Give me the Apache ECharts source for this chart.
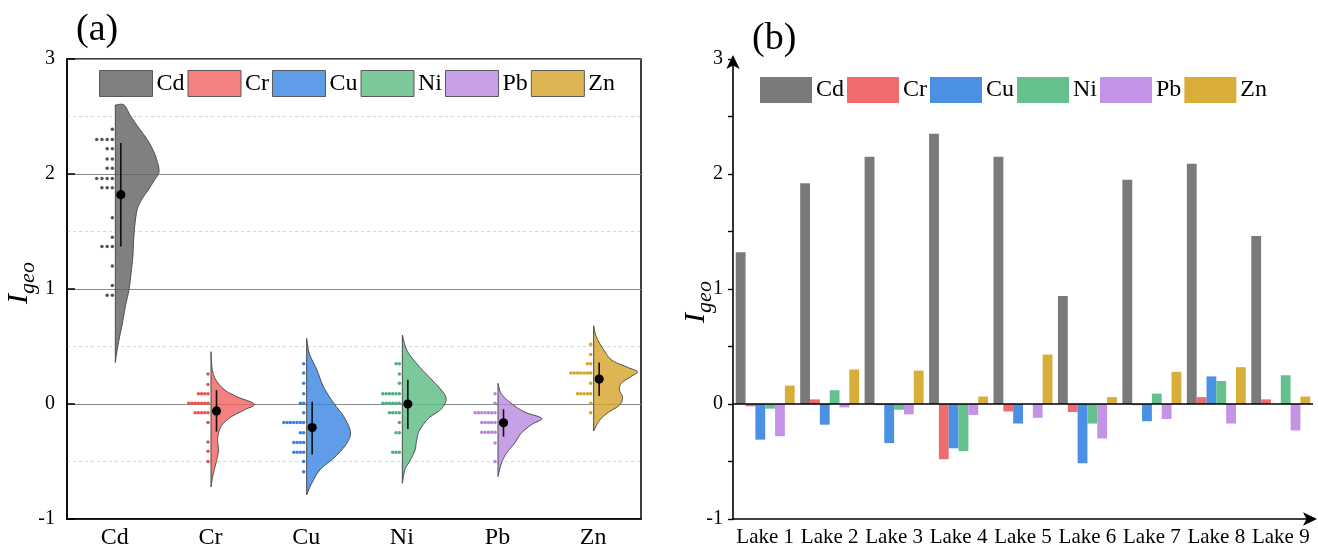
<!DOCTYPE html>
<html><head><meta charset="utf-8">
<script src="https://cdn.jsdelivr.net/npm/echarts@6/dist/echarts.min.js"></script>
<style>html,body{margin:0;padding:0;background:#fff}#c{width:1318px;height:551px}</style>
</head><body><div id="c"></div>
<script>
// ---------- DATA ----------
const elements = ['Cd', 'Cr', 'Cu', 'Ni', 'Pb', 'Zn'];
const lakes = ['Lake 1', 'Lake 2', 'Lake 3', 'Lake 4', 'Lake 5', 'Lake 6', 'Lake 7', 'Lake 8', 'Lake 9'];

// half-violin outlines: [Igeo value, relative density]
const cdProfile = [[2.60,0],[2.60,0.20],[2.51,0.34],[2.41,0.52],[2.30,0.73],[2.21,0.86],[2.12,0.95],[2.02,1.00],[1.95,0.90],[1.86,0.75],[1.77,0.59],[1.69,0.50],[1.57,0.45],[1.43,0.42],[1.28,0.40],[1.14,0.36],[0.99,0.31],[0.85,0.23],[0.70,0.16],[0.56,0.085],[0.42,0.02],[0.36,0]];
const crProfile = [[0.455,0],[0.38,0.01],[0.30,0.03],[0.21,0.11],[0.12,0.32],[0.06,0.61],[0.0,0.99],[-0.05,0.77],[-0.11,0.47],[-0.17,0.28],[-0.23,0.19],[-0.31,0.15],[-0.40,0.17],[-0.49,0.13],[-0.57,0.075],[-0.65,0.03],[-0.72,0]];
const cuProfile = [[0.57,0],[0.44,0.06],[0.30,0.23],[0.15,0.385],[0.006,0.62],[-0.11,0.85],[-0.24,1.0],[-0.34,0.92],[-0.46,0.65],[-0.57,0.31],[-0.69,0.115],[-0.79,0]];
const niProfile = [[0.60,0],[0.47,0.10],[0.35,0.33],[0.24,0.60],[0.14,0.85],[0.05,1.0],[-0.04,0.90],[-0.125,0.60],[-0.23,0.39],[-0.31,0.33],[-0.40,0.29],[-0.49,0.18],[-0.57,0.06],[-0.69,0]];
const pbProfile = [[0.18,0],[0.09,0.075],[0.006,0.30],[-0.07,0.61],[-0.125,1.0],[-0.18,0.76],[-0.255,0.53],[-0.34,0.38],[-0.43,0.19],[-0.52,0.075],[-0.63,0]];
const znProfile = [[0.68,0],[0.585,0.06],[0.47,0.23],[0.38,0.42],[0.32,0.77],[0.28,1.0],[0.24,0.86],[0.18,0.63],[0.12,0.59],[0.06,0.66],[-0.01,0.59],[-0.08,0.31],[-0.15,0.12],[-0.235,0]];

// dot rows: [Igeo value, number of samples]
const cdRows = [[2.39,1],[2.30,4],[2.22,2],[2.13,2],[2.05,2],[1.96,4],[1.88,3],[1.62,1],[1.45,1],[1.37,3],[1.20,1],[1.03,1],[0.945,2]];
const crRows = [[0.26,1],[0.17,1],[0.09,4],[0.006,7],[-0.075,5],[-0.16,1],[-0.33,1],[-0.41,1],[-0.50,1]];
const cuRows = [[0.35,1],[0.27,1],[0.18,1],[0.09,1],[0.006,2],[-0.075,1],[-0.16,7],[-0.25,2],[-0.335,4],[-0.42,4],[-0.50,1],[-0.59,1]];
const niRows = [[0.35,2],[0.26,1],[0.18,1],[0.09,6],[0.006,6],[-0.075,4],[-0.16,1],[-0.25,2],[-0.42,3]];
const pbRows = [[0.09,1],[0.006,1],[-0.075,7],[-0.16,5],[-0.245,5],[-0.34,1],[-0.50,1]];
const znRows = [[0.52,1],[0.43,1],[0.35,2],[0.27,7],[0.18,1],[0.09,5],[0.006,1],[-0.075,1]];

// mean and whisker
const means = [1.82, -0.06, -0.205, 0.00, -0.163, 0.217];
const errLow = [1.37, -0.24, -0.44, -0.217, -0.284, 0.07];
const errHigh = [2.27, 0.12, 0.02, 0.21, -0.046, 0.36];

// (b) bars per lake
const cdLake = [1.32, 1.92, 2.15, 2.35, 2.15, 0.94, 1.95, 2.09, 1.46];
const crLake = [-0.02, 0.04, -0.01, -0.48, -0.065, -0.07, -0.01, 0.06, 0.04];
const cuLake = [-0.31, -0.18, -0.34, -0.385, -0.17, -0.515, -0.15, 0.24, 0];
const niLake = [-0.04, 0.12, -0.05, -0.41, 0, -0.17, 0.09, 0.20, 0.25];
const pbLake = [-0.28, -0.03, -0.09, -0.095, -0.12, -0.30, -0.13, -0.17, -0.23];
const znLake = [0.16, 0.30, 0.29, 0.065, 0.43, 0.06, 0.28, 0.32, 0.065];

// ---------- STYLE ----------
const SERIF = 'Liberation Serif, Times New Roman, serif';
const baseRGB = [[96,96,96],[241,97,95],[56,133,226],[90,188,129],[186,136,224],[212,162,40]];
const fillCols = baseRGB.map(c => `rgba(${c[0]},${c[1]},${c[2]},0.8)`);
const dotCols = ['#555555','#ea5050','#3a80dc','#4cb07a','#b784e0','#d3a22c'];
const legendFills = ['#808080','#f4817f','#609de8','#7bc99a','#c8a0e6','#ddb553'];
const barCols = ['#7a7a7a','#f06b6b','#4a90e3','#64c08c','#c493e6','#d9ad3a'];
const dotGaps = [5.2, 3.2, 3.3, 3.3, 3.3, 3.3];

const profiles = [cdProfile, crProfile, cuProfile, niProfile, pbProfile, znProfile];
const rowsAll = [cdRows, crRows, cuRows, niRows, pbRows, znRows];
const lakeAll = [cdLake, crLake, cuLake, niLake, pbLake, znLake];

function catmull(pts, seg) {
  const out = [];
  for (let i = 0; i < pts.length - 1; i++) {
    const p0 = pts[Math.max(i - 1, 0)], p1 = pts[i], p2 = pts[i + 1], p3 = pts[Math.min(i + 2, pts.length - 1)];
    for (let t = 0; t < seg; t++) {
      const s = t / seg, s2 = s * s, s3 = s2 * s;
      const f = (a, b, c, d) => 0.5 * ((2 * b) + (-a + c) * s + (2 * a - 5 * b + 4 * c - d) * s2 + (-a + 3 * b - 3 * c + d) * s3);
      out.push([f(p0[0], p1[0], p2[0], p3[0]), f(p0[1], p1[1], p2[1], p3[1])]);
    }
  }
  out.push(pts[pts.length - 1]);
  return out;
}

function violinSeries(idx) {
  return {
    type: 'custom', name: elements[idx], xAxisIndex: 0, yAxisIndex: 0,
    itemStyle: { color: fillCols[idx] },
    data: [[idx, means[idx], errLow[idx], errHigh[idx]]],
    z: 5,
    renderItem: function (params, api) {
      const cat = api.value(0);
      const base = api.coord([cat, 0])[0] + 0.5;
      const band = api.size([1, 0])[0];
      const W = band * 0.457;
      const prof = profiles[idx];
      const pts = prof.map(p => [base + p[1] * W, api.coord([cat, p[0]])[1]]);
      const curve = catmull(pts, 10).map(p => [Math.max(p[0], base), p[1]]);
      const poly = [[base, pts[0][1]]].concat(curve).concat([[base, pts[pts.length - 1][1]]]);
      const children = [{
        type: 'polygon', shape: { points: poly },
        style: { fill: fillCols[idx], stroke: '#4a4a4a', lineWidth: 1 }
      }];
      rowsAll[idx].forEach(r => {
        const y = api.coord([cat, r[0]])[1];
        for (let k = 0; k < r[1]; k++) {
          children.push({ type: 'circle', shape: { cx: base - 3 - k * dotGaps[idx], cy: y, r: 1.75 }, style: { fill: dotCols[idx] } });
        }
      });
      const ex = base + 5.5;
      children.push({ type: 'line', shape: { x1: ex, y1: api.coord([cat, api.value(2)])[1], x2: ex, y2: api.coord([cat, api.value(3)])[1] }, style: { stroke: '#111', lineWidth: 1.6 } });
      const my = api.coord([cat, api.value(1)])[1];
      children.push({ type: 'circle', shape: { cx: ex, cy: my, r: 4.6 }, style: { fill: '#000' } });
      return { type: 'group', children: children };
    }
  };
}

function barSeries(idx) {
  const s = {
    type: 'bar', name: elements[idx], xAxisIndex: 1, yAxisIndex: 1,
    data: lakeAll[idx], barGap: '0%', barCategoryGap: '8.5%',
    itemStyle: { color: barCols[idx] }, z: 3
  };
  if (idx === 0) {
    s.markLine = { silent: true, symbol: 'none', label: { show: false },
      lineStyle: { color: '#000', width: 1.6, type: 'solid' }, data: [{ yAxis: 0 }] };
  }
  return s;
}

const chart = echarts.init(document.getElementById('c'), null, { renderer: 'canvas' });
const igeoRich = {
  i: { fontSize: 30, fontStyle: 'italic', fontFamily: SERIF, fill: '#000', verticalAlign: 'top', lineHeight: 38 },
  s: { fontSize: 22, fontStyle: 'italic', fontFamily: SERIF, fill: '#000', verticalAlign: 'top', lineHeight: 38, padding: [13, 0, 0, 0] }
};
chart.setOption({
  animation: false,
  backgroundColor: '#fff',
  title: [
    { text: '(a)', left: 71, top: 6, textStyle: { fontSize: 38, fontWeight: 'normal', fontFamily: SERIF, color: '#000' } },
    { text: '(b)', left: 747, top: 15, textStyle: { fontSize: 38, fontWeight: 'normal', fontFamily: SERIF, color: '#000' } }
  ],
  graphic: [
    { type: 'text', x: 23, y: 283, rotation: Math.PI / 2, style: { text: '{i|I}{s|geo}', rich: igeoRich, align: 'center', verticalAlign: 'middle' } },
    { type: 'text', x: 700, y: 302, rotation: Math.PI / 2, style: { text: '{i|I}{s|geo}', rich: igeoRich, align: 'center', verticalAlign: 'middle' } }
  ],
  legend: [
    { left: 94, top: 65, itemWidth: 53, itemHeight: 26, itemGap: 3, icon: 'rect', selectedMode: false,
      textStyle: { fontSize: 24, fontFamily: SERIF, color: '#000', padding: [0, 0, 0, -1] },
      data: elements.map((e, i) => ({ name: e, itemStyle: { color: legendFills[i], borderColor: '#5a5a5a', borderWidth: 1 } })) },
    { left: 755, top: 72, itemWidth: 52, itemHeight: 26, itemGap: 3, icon: 'rect', selectedMode: false,
      textStyle: { fontSize: 24, fontFamily: SERIF, color: '#000', padding: [0, 0, 0, -1] },
      data: elements.map((e, i) => ({ name: e, itemStyle: { color: barCols[i], borderWidth: 0 } })) }
  ],
  grid: [
    { left: 67, top: 59, width: 574, height: 460, show: true, borderColor: '#000', borderWidth: 1.5, backgroundColor: 'transparent' },
    { left: 733, top: 59, width: 580, height: 460 }
  ],
  xAxis: [
    { type: 'category', gridIndex: 0, data: elements, boundaryGap: true,
      axisLine: { onZero: false, lineStyle: { color: '#000', width: 1.5 } }, axisTick: { show: false },
      axisLabel: { fontSize: 24, fontFamily: SERIF, color: '#000', margin: 7, interval: 0 } },
    { type: 'category', gridIndex: 1, data: lakes, boundaryGap: true,
      axisLine: { onZero: false, symbol: ['none', 'arrow'], symbolSize: [10, 14], symbolOffset: [0, 4], lineStyle: { color: '#000', width: 1.6 } },
      axisTick: { inside: true, length: 5, interval: 0, lineStyle: { color: '#000', width: 1.4 } },
      axisLabel: { fontSize: 21, fontFamily: SERIF, color: '#000', margin: 8, interval: 0, hideOverlap: false } }
  ],
  yAxis: [
    { type: 'value', gridIndex: 0, min: -1, max: 3, interval: 1,
      axisLine: { show: true, lineStyle: { color: '#000', width: 1.5 } },
      axisTick: { show: true, inside: true, length: 8, lineStyle: { color: '#000', width: 1.5 } },
      axisLabel: { fontSize: 20, fontFamily: SERIF, color: '#000', margin: 12 },
      splitLine: { show: true, lineStyle: { color: '#8a8a8a', width: 1 } },
      minorTick: { show: false, splitNumber: 2 },
      minorSplitLine: { show: true, lineStyle: { color: '#d4d4d4', type: [3, 3], width: 1 } } },
    { type: 'value', gridIndex: 1, min: -1, max: 3, interval: 0.5,
      axisLine: { show: true, symbol: ['none', 'arrow'], symbolSize: [10, 14], symbolOffset: [0, 4], lineStyle: { color: '#000', width: 1.6 } },
      axisTick: { show: true, length: 5, lineStyle: { color: '#000', width: 1.4 } },
      axisLabel: { fontSize: 20, fontFamily: SERIF, color: '#000', margin: 10,
        formatter: v => (Math.abs(v - Math.round(v)) < 1e-9 ? String(Math.round(v)) : '') },
      splitLine: { show: false } }
  ],
  series: elements.map((e, i) => violinSeries(i)).concat(elements.map((e, i) => barSeries(i)))
});
</script></body></html>
